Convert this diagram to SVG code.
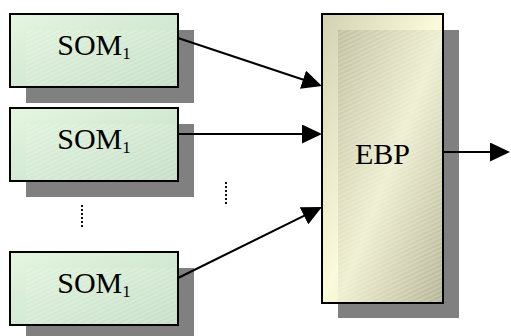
<svg xmlns="http://www.w3.org/2000/svg" width="511" height="336" viewBox="0 0 511 336">
  <style>
    .shadow { fill: #808080; }
    .som { fill: url(#somGrad); stroke: #000; stroke-width: 2; }
    .hatch { fill: url(#hatch); }
    .lbl { font-family: "Liberation Serif", "Times New Roman", serif; font-size: 30px; fill: #000; }
    .conn { stroke: #000; stroke-width: 2; fill: none; }
    .dots { stroke: #111; stroke-width: 2; stroke-dasharray: 2 2; fill: none; }
  </style>
  <defs>
    <linearGradient id="somGrad" x1="0" y1="0" x2="1" y2="1">
      <stop offset="0" stop-color="#e4f6e0"/>
      <stop offset="1" stop-color="#c6dec6"/>
    </linearGradient>
    <linearGradient id="ebpOuter" x1="0" y1="0" x2="1" y2="1">
      <stop offset="0" stop-color="#d2d2b2"/>
      <stop offset="0.5" stop-color="#fbfbdc"/>
      <stop offset="1" stop-color="#d4d4b4"/>
    </linearGradient>
    <linearGradient id="ebpInner" x1="0" y1="0" x2="1" y2="1">
      <stop offset="0" stop-color="#c0c0a0"/>
      <stop offset="0.5" stop-color="#eeeed0"/>
      <stop offset="1" stop-color="#b4b494"/>
    </linearGradient>
    <pattern id="hatch" width="4" height="4" patternUnits="userSpaceOnUse" patternTransform="rotate(-25)">
      <line x1="0" y1="1" x2="4" y2="1" stroke="#ffffff" stroke-opacity="0.35" stroke-width="1"/>
    </pattern>
    <marker id="arrow" markerUnits="userSpaceOnUse" markerWidth="20" markerHeight="19" refX="10" refY="9.5" orient="auto">
      <path d="M0,0 L20,9.5 L0,19 Z" fill="#000"/>
    </marker>
  </defs>

  <g id="som1">
    <rect class="shadow" x="26" y="30" width="168" height="73"/>
    <rect class="som" x="10" y="14" width="168" height="73"/>
    <rect class="hatch" x="26" y="30" width="150" height="55"/>
    <text class="lbl" x="94" y="55" text-anchor="middle">SOM<tspan font-size="17" dy="4">1</tspan></text>
  </g>

  <g id="som2">
    <rect class="shadow" x="26" y="124" width="168" height="73"/>
    <rect class="som" x="10" y="108" width="168" height="73"/>
    <rect class="hatch" x="26" y="124" width="150" height="55"/>
    <text class="lbl" x="94" y="149" text-anchor="middle">SOM<tspan font-size="17" dy="4">1</tspan></text>
  </g>

  <g id="som3">
    <rect class="shadow" x="26" y="268" width="168" height="73"/>
    <rect class="som" x="10" y="252" width="168" height="73"/>
    <rect class="hatch" x="26" y="268" width="150" height="55"/>
    <text class="lbl" x="94" y="293" text-anchor="middle">SOM<tspan font-size="17" dy="4">1</tspan></text>
  </g>

  <g id="ebp">
    <rect class="shadow" x="338" y="30" width="121" height="288"/>
    <rect x="322" y="14" width="121" height="289" fill="url(#ebpOuter)"/>
    <rect x="338" y="30" width="105" height="273" fill="url(#ebpInner)"/>
    <rect class="hatch" x="338" y="30" width="105" height="273"/>
    <rect x="322" y="14" width="121" height="289" fill="none" stroke="#000" stroke-width="2"/>
    <text class="lbl" x="382.5" y="164" text-anchor="middle">EBP</text>
  </g>

  <g id="connectors">
    <line class="conn" x1="178" y1="38" x2="312.5" y2="82.8" marker-end="url(#arrow)"/>
    <line class="conn" x1="178" y1="134" x2="312" y2="134" marker-end="url(#arrow)"/>
    <line class="conn" x1="178" y1="278" x2="313" y2="211.4" marker-end="url(#arrow)"/>
    <line class="conn" x1="443" y1="152" x2="500" y2="152" marker-end="url(#arrow)"/>
  </g>

  <g id="ellipsis">
    <line class="dots" x1="82" y1="205" x2="82" y2="229"/>
    <line class="dots" x1="226" y1="182" x2="226" y2="205"/>
  </g>
</svg>
